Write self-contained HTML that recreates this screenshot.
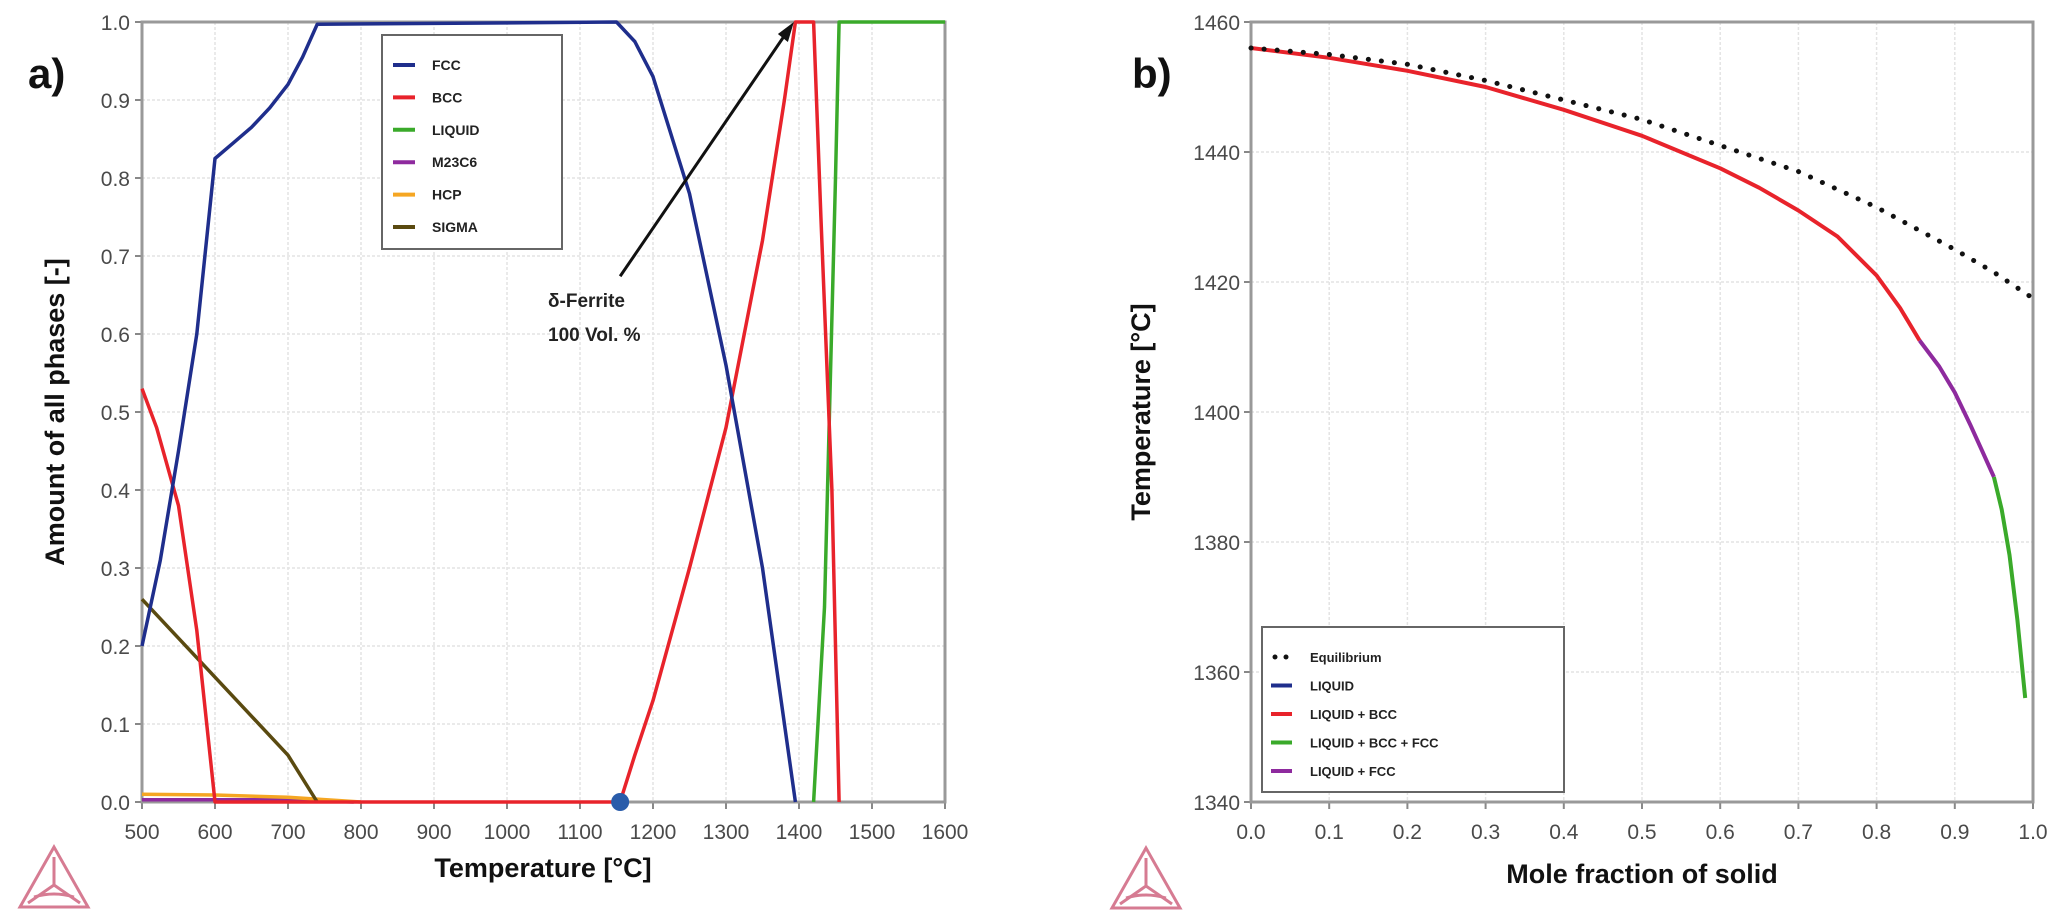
<!DOCTYPE html>
<html><head><meta charset="utf-8">
<style>
html,body{margin:0;padding:0;background:#fff;width:2056px;height:924px;overflow:hidden}
svg{display:block;font-family:"Liberation Sans",sans-serif}
.tick{font-size:21px;fill:#4a4a4a}
.ttl{font-size:27px;font-weight:bold;fill:#111}
.leg{font-size:14px;font-weight:bold;fill:#222}
</style></head><body>
<svg id="fig" width="2056" height="924" viewBox="0 0 2056 924" xmlns="http://www.w3.org/2000/svg">
<g id="A"></g>
<g id="B"></g>
</svg>
<script>
// ---- Chart a data ----
const aXTicks=[500,600,700,800,900,1000,1100,1200,1300,1400,1500,1600];
const aYTicks=[0,0.1,0.2,0.3,0.4,0.5,0.6,0.7,0.8,0.9,1.0];
const fccT=[500,525,550,575,600,625,650,675,700,720,740,1150,1175,1200,1250,1300,1350,1395];
const fccV=[0.2,0.31,0.45,0.6,0.825,0.845,0.865,0.89,0.92,0.955,0.997,1.0,0.975,0.93,0.78,0.56,0.3,0];
const bccT=[500,520,550,575,600,1155,1155,1175,1200,1250,1300,1350,1380,1395,1420,1430,1445,1455];
const bccV=[0.53,0.48,0.38,0.22,0,0,0,0.06,0.13,0.3,0.48,0.72,0.9,1.0,1.0,0.75,0.4,0];
const liqT=[1420,1435,1450,1455,1600];
const liqV=[0,0.25,0.8,1.0,1.0];
const sigT=[500,550,600,650,700,740];
const sigV=[0.26,0.21,0.16,0.11,0.06,0];
const hcpT=[500,600,700,800];
const hcpV=[0.01,0.009,0.006,0];
const m23T=[500,700,790];
const m23V=[0.003,0.003,0];
const dotT=[1155];const dotV=[0];
// ---- Chart b data ----
const bXTicks=[0,0.1,0.2,0.3,0.4,0.5,0.6,0.7,0.8,0.9,1.0];
const bYTicks=[1340,1360,1380,1400,1420,1440,1460];
const eqF=[0,0.1,0.2,0.3,0.4,0.5,0.6,0.7,0.8,0.9,0.95,1.0];
const eqT=[1456,1455,1453.5,1451,1448,1445,1441,1437,1431.5,1425,1421.5,1417.5];
const redF=[0,0.1,0.2,0.3,0.4,0.5,0.6,0.65,0.7,0.75,0.8,0.83,0.855];
const redT=[1456,1454.5,1452.5,1450,1446.5,1442.5,1437.5,1434.5,1431,1427,1421,1416,1411];
const purF=[0.855,0.88,0.9,0.92,0.935,0.95];
const purT=[1411,1407,1403,1398,1394,1390];
const grnF=[0.95,0.96,0.97,0.98,0.99];
const grnT=[1390,1385,1378,1368,1356];

const NS="http://www.w3.org/2000/svg";
function mk(p,tag,at){const e=document.createElementNS(NS,tag);for(const k in at)e.setAttribute(k,at[k]);p.appendChild(e);return e;}
const ax=T=>142+(T-500)*0.73, ay=v=>802-v*780;
const bx=f=>1251+f*782, by=T=>802-(T-1340)*6.5;
function pts(xs,ys,fx,fy){return xs.map((x,i)=>fx(x).toFixed(1)+","+fy(ys[i]).toFixed(1)).join(" ");}

// ---------- Chart A ----------
const A=document.getElementById('A');
aXTicks.forEach(t=>{
 const g=mk(A,'line',{x1:ax(t),x2:ax(t),y1:22,y2:802,stroke:'#e4e4e4','stroke-width':1.5,'stroke-dasharray':'3,2'});
 
 
 const tk=mk(A,'line',{x1:ax(t),x2:ax(t),y1:802,y2:809,stroke:'#888','stroke-width':2});
 
 
 const l=mk(A,'text',{x:ax(t),y:839,'text-anchor':'middle',class:'tick'});l.textContent=t;
 
 
});
aYTicks.forEach(v=>{
 const g=mk(A,'line',{x1:142,x2:945,y1:ay(v),y2:ay(v),stroke:'#e4e4e4','stroke-width':1.5,'stroke-dasharray':'3,2'});
 
 
 const tk=mk(A,'line',{x1:135,x2:142,y1:ay(v),y2:ay(v),stroke:'#888','stroke-width':2});
 
 
 const l=mk(A,'text',{x:130,y:ay(v)+8,'text-anchor':'end',class:'tick'});l.textContent=v.toFixed(1);
 
 
});
const fr=mk(A,'rect',{x:142,y:22,width:803,height:780,fill:'none',stroke:'#999','stroke-width':3});


[[m23T,m23V,'#8e2a9e','m23c6-line'],[hcpT,hcpV,'#f5a623','hcp-line'],[sigT,sigV,'#5a4a10','sigma-line'],[liqT,liqV,'#3aaa2a','liquid-line'],[bccT,bccV,'#e8232b','bcc-line'],[fccT,fccV,'#1f2e8c','fcc-line']].forEach(s=>{
 const p=mk(A,'polyline',{points:pts(s[0],s[1],ax,ay),fill:'none',stroke:s[2],'stroke-width':3.5,'stroke-linejoin':'round'});
 
 
});
dotT.forEach((t,i)=>{const c=mk(A,'circle',{cx:ax(t),cy:ay(dotV[i]),r:9,fill:'#2a5caa'});
 
 });
// annotation
const ar=mk(A,'line',{x1:ax(1155),y1:ay(0.674),x2:ax(1390)-4,y2:ay(0.995)+5,stroke:'#111','stroke-width':3});


const ah=mk(A,'polygon',{points:`${ax(1393)},${ay(1.0)} ${ax(1393)-16},${ay(1.0)+12} ${ax(1393)-6},${ay(1.0)+20}`,fill:'#111'});


const an1=mk(A,'text',{x:548,y:307,class:'leg',style:'font-size:19px'});an1.textContent='δ-Ferrite';


const an2=mk(A,'text',{x:548,y:341,class:'leg',style:'font-size:19px'});an2.textContent='100 Vol. %';


// legend A
const lgA=mk(A,'g',{});


mk(lgA,'rect',{x:382,y:35,width:180,height:214,fill:'#fff',stroke:'#666','stroke-width':2});
[['FCC','#1f2e8c'],['BCC','#e8232b'],['LIQUID','#3aaa2a'],['M23C6','#8e2a9e'],['HCP','#f5a623'],['SIGMA','#5a4a10']].forEach((e,i)=>{
 const y=65+i*32.4;
 const g=mk(lgA,'g',{});
 
 
 mk(g,'line',{x1:393,x2:415,y1:y,y2:y,stroke:e[1],'stroke-width':4});
 const t=mk(g,'text',{x:432,y:y+5,class:'leg'});t.textContent=e[0];
});
let t1=mk(A,'text',{x:28,y:88,style:'font-size:42px;font-weight:bold;fill:#111'});t1.textContent='a)';


t1=mk(A,'text',{x:543,y:877,'text-anchor':'middle',class:'ttl'});t1.textContent='Temperature [°C]';


t1=mk(A,'text',{x:0,y:0,'text-anchor':'middle',class:'ttl',transform:'translate(64,412) rotate(-90)'});t1.textContent='Amount of all phases [-]';



// ---------- Chart B ----------
const B=document.getElementById('B');
bXTicks.forEach(f=>{
 const g=mk(B,'line',{x1:bx(f),x2:bx(f),y1:22,y2:802,stroke:'#e4e4e4','stroke-width':1.5,'stroke-dasharray':'3,2'});
 
 
 const tk=mk(B,'line',{x1:bx(f),x2:bx(f),y1:802,y2:809,stroke:'#888','stroke-width':2});
 
 
 const l=mk(B,'text',{x:bx(f),y:839,'text-anchor':'middle',class:'tick'});l.textContent=f.toFixed(1);
 
 
});
bYTicks.forEach(T=>{
 const g=mk(B,'line',{x1:1251,x2:2033,y1:by(T),y2:by(T),stroke:'#e4e4e4','stroke-width':1.5,'stroke-dasharray':'3,2'});
 
 
 const tk=mk(B,'line',{x1:1244,x2:1251,y1:by(T),y2:by(T),stroke:'#888','stroke-width':2});
 
 
 const l=mk(B,'text',{x:1240,y:by(T)+8,'text-anchor':'end',class:'tick'});l.textContent=T;
 
 
});
const fr2=mk(B,'rect',{x:1251,y:22,width:782,height:780,fill:'none',stroke:'#999','stroke-width':3});


[[redF,redT,'#e8232b','liquid-bcc-line'],[purF,purT,'#8e2a9e','liquid-fcc-line'],[grnF,grnT,'#3aaa2a','liquid-bcc-fcc-line']].forEach(s=>{
 const p=mk(B,'polyline',{points:pts(s[0],s[1],bx,by),fill:'none',stroke:s[2],'stroke-width':4,'stroke-linejoin':'round'});
 
 
});
const eq=mk(B,'polyline',{points:pts(eqF,eqT,bx,by),fill:'none',stroke:'#111','stroke-width':5,'stroke-dasharray':'0.1,13','stroke-linecap':'round'});


const lgB=mk(B,'g',{});


mk(lgB,'rect',{x:1262,y:627,width:302,height:165,fill:'#fff',stroke:'#666','stroke-width':2});
[['Equilibrium','#111',true],['LIQUID','#1f2e8c'],['LIQUID + BCC','#e8232b'],['LIQUID + BCC + FCC','#3aaa2a'],['LIQUID + FCC','#8e2a9e']].forEach((e,i)=>{
 const y=657+i*28.5;
 const g=mk(lgB,'g',{});
 
 
 if(e[2]){mk(g,'circle',{cx:1275,cy:y,r:2.5,fill:'#111'});mk(g,'circle',{cx:1286,cy:y,r:2.5,fill:'#111'});}
 else mk(g,'line',{x1:1271,x2:1292,y1:y,y2:y,stroke:e[1],'stroke-width':4});
 const t=mk(g,'text',{x:1310,y:y+5,class:'leg',style:'font-size:13px'});t.textContent=e[0];
});
t1=mk(B,'text',{x:1132,y:88,style:'font-size:42px;font-weight:bold;fill:#111'});t1.textContent='b)';


t1=mk(B,'text',{x:1642,y:883,'text-anchor':'middle',class:'ttl'});t1.textContent='Mole fraction of solid';


t1=mk(B,'text',{x:0,y:0,'text-anchor':'middle',class:'ttl',transform:'translate(1150,412) rotate(-90)'});t1.textContent='Temperature [°C]';



// logos
function logo(x,y,name){
 const g=mk(document.getElementById('fig'),'g',{transform:`translate(${x},${y})`,stroke:'#c9506e',fill:'none','stroke-width':3,opacity:0.75});
 
 
 mk(g,'polygon',{points:'34,0 0,60 68,60'});
 mk(g,'polyline',{points:'34,10 34,38 8,56'});
 mk(g,'line',{x1:34,y1:38,x2:60,y2:56});
 mk(g,'path',{d:'M14,50 Q34,44 54,50'});
}
logo(20,847,'logo-a');
logo(1112,848,'logo-b');
</script>
</body></html>
